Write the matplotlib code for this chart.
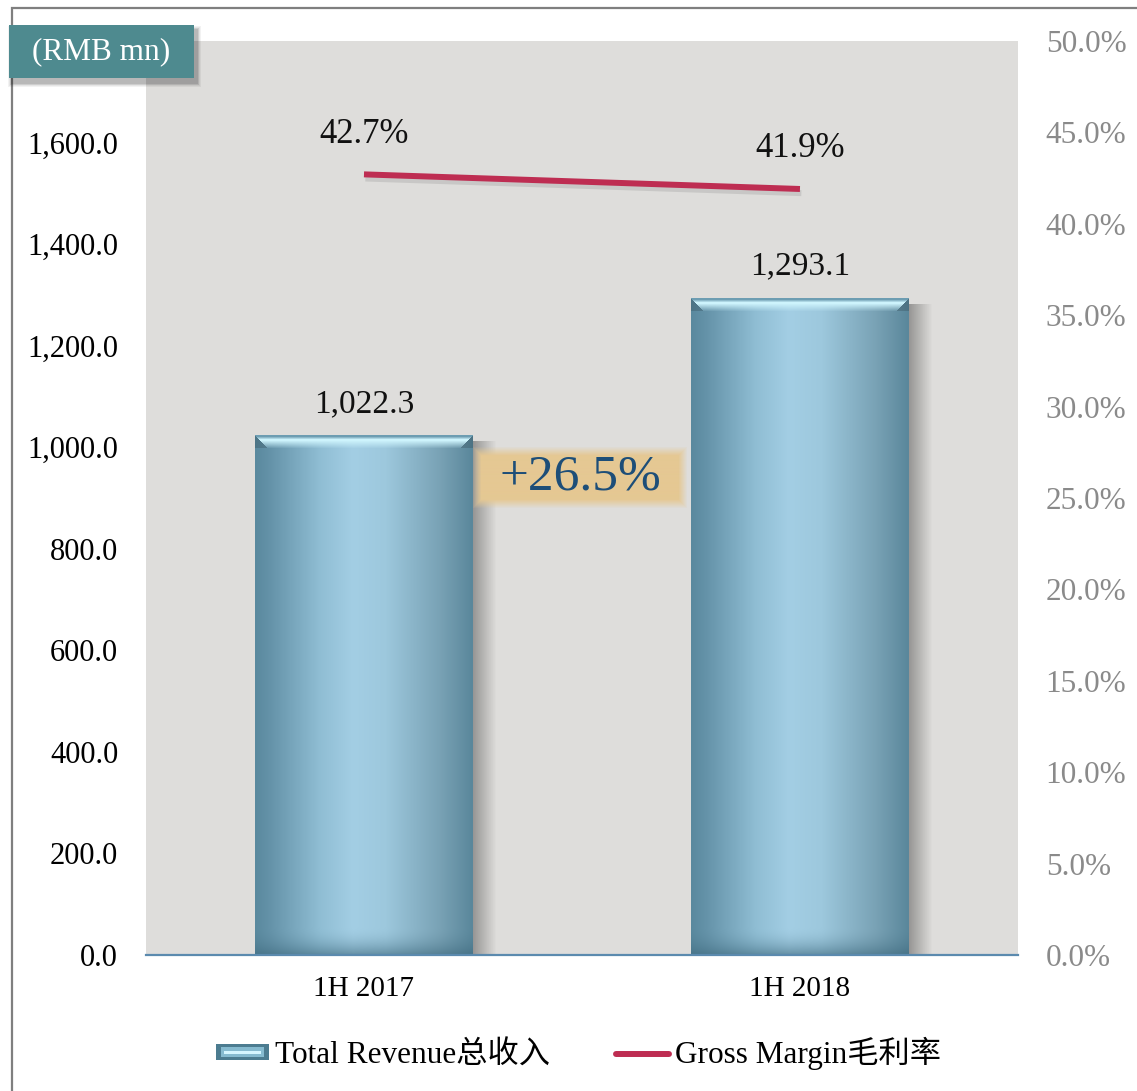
import numpy as np
import matplotlib.pyplot as plt
import matplotlib.patheffects as pe
from matplotlib.colors import to_rgb
from matplotlib.patches import Rectangle, Patch
from matplotlib.lines import Line2D
from matplotlib.legend_handler import HandlerBase

plt.rcParams['font.family'] = ['Liberation Serif', 'Noto Sans CJK SC', 'DejaVu Sans']

# data
periods = ['1H 2017', '1H 2018']
revenue = [1022.3, 1293.1]
gross_margin = [42.7, 41.9]
growth_label = '+26.5%'
rev_ticks = [0, 200, 400, 600, 800, 1000, 1200, 1400, 1600]
gm_ticks = [0, 5, 10, 15, 20, 25, 30, 35, 40, 45, 50]
legend_labels = ['Total Revenue总收入', 'Gross Margin毛利率']

BG = '#DEDDDB'
LINE_C = '#BE2D52'

fig = plt.figure(figsize=(11.37, 10.91), dpi=100)
ax = fig.add_axes([0.1284, 0.1247, 0.7669, 0.8378])
ax.set_facecolor(BG)
ax.set_xlim(-0.5, 1.5)
ax.set_ylim(0, 1800)

x = np.arange(len(periods))
bars = ax.bar(x, revenue, width=0.5, color='none', zorder=3)


def hex_rgb(cs):
    return np.array([to_rgb(c) for c in cs])


def bar_image(w_px, h_px):
    # horizontal shading of the cylinder-like bar
    pos = [0, 0.07, 0.3, 0.45, 0.6, 0.85, 1.0]
    cols = hex_rgb(['#5A899E', '#6593A9', '#90BED4', '#A3CEE4', '#9DC8DD', '#79A2B5', '#5A879B'])
    xs = np.linspace(0, 1, w_px)
    body = np.stack([np.interp(xs, pos, cols[:, k]) for k in range(3)], axis=-1)
    img = np.repeat(body[None, :, :], h_px, axis=0)
    # top bevel
    bev = 13
    hi = np.array(to_rgb('#CDF3FC'))
    edge = np.array(to_rgb('#6D9DB2'))
    for r in range(min(bev, h_px)):
        if r < 2:
            face = edge
        elif r < 5:
            face = edge + (hi - edge) * (r - 1) / 3
        else:
            face = hi
        t = max(0, (r - 5) / (bev - 5))
        row = face * (1 - t) + body * t
        row = np.broadcast_to(row, body.shape).copy()
        inset = r
        row[:inset] = body[:inset] * 0.85
        if inset > 0:
            row[-inset:] = body[-inset:] * 0.85
        img[r] = row
    # bottom darkening
    nb = 28
    dark = np.array(to_rgb('#3D687C'))
    for i in range(min(nb, h_px)):
        w = (1 - i / nb) ** 2 * 0.6
        img[h_px - 1 - i] = img[h_px - 1 - i] * (1 - w) + dark * w
    return img


inv = ax.transData.inverted()
for b in bars:
    x0, w, h = b.get_x(), b.get_width(), b.get_height()
    p0 = ax.transData.transform((x0, 0))
    p1 = ax.transData.transform((x0 + w, h))
    w_px = int(round(p1[0] - p0[0]))
    h_px = int(round(p1[1] - p0[1]))
    # shadow to the right
    sh_w = 24
    sx1 = inv.transform((p1[0] + sh_w, p1[1] - 6))
    a = np.linspace(0.32, 0.0, sh_w)
    sh = np.zeros((1, sh_w, 4))
    sh[..., 3] = a
    ax.imshow(sh, extent=[x0 + w, sx1[0], 0, sx1[1]], aspect='auto', zorder=2,
              interpolation='bilinear')
    ax.imshow(bar_image(w_px, h_px), extent=[x0, x0 + w, 0, h], aspect='auto',
              zorder=3, interpolation='nearest')
    ax.annotate(f'{h:,.1f}', (b.get_x() + w / 2, h), xytext=(0, 23),
                textcoords='offset points', ha='center', va='center', fontsize=24,
                color='#111111', zorder=5)

ax.set_xlim(-0.5, 1.5)
ax.set_ylim(0, 1800)

# growth highlight box
bh, bw, fade = 60, 214, 9
yy, xx = np.mgrid[0:bh, 0:bw]
d = np.minimum(np.minimum(xx, bw - 1 - xx), np.minimum(yy, bh - 1 - yy))
box = np.zeros((bh, bw, 4))
box[..., :3] = to_rgb('#E5C893')
box[..., 3] = np.clip((d + 1) / fade, 0, 1)
gx0 = bars[0].get_x() + bars[0].get_width()
px_x = 1 / (ax.transData.transform((1, 0))[0] - ax.transData.transform((0, 0))[0])
px_y = 1 / (ax.transData.transform((0, 1))[1] - ax.transData.transform((0, 0))[1])
gy_c = 940
ax.imshow(box, extent=[gx0, gx0 + bw * px_x, gy_c - bh / 2 * px_y, gy_c + bh / 2 * px_y],
          aspect='auto', zorder=4, interpolation='bilinear')
ax.text(gx0 + bw / 2 * px_x, gy_c, growth_label, ha='center', va='center',
        fontsize=37, color='#1D4E78', zorder=5)

ax.set_xlim(-0.5, 1.5)
ax.set_ylim(0, 1800)

ax.set_xticks(x)
ax.set_xticklabels(periods, fontsize=21)
ax.set_yticks(rev_ticks)
ax.set_yticklabels([f'{v:,.1f}' for v in rev_ticks], fontsize=22)
ax.tick_params(axis='both', length=0)
ax.tick_params(axis='y', pad=20)
ax.tick_params(axis='x', pad=15)
for s in ['top', 'left', 'right']:
    ax.spines[s].set_visible(False)
ax.spines['bottom'].set_color('#5B8AAE')
ax.spines['bottom'].set_linewidth(1.6)
ax.spines['bottom'].set_zorder(6)

# gross margin line
ax2 = ax.twinx()
ax2.set_ylim(0, 50)
ax2.plot(x, gross_margin, color=LINE_C, lw=4.3, solid_capstyle='butt', zorder=5,
         path_effects=[pe.SimpleLineShadow(offset=(1, -3), shadow_color='#888888', alpha=0.25),
                       pe.Normal()])
for xi, v in zip(x, gross_margin):
    ax2.annotate(f'{v:.1f}%', (xi, v), xytext=(0, 29), textcoords='offset points',
                 ha='center', va='center', fontsize=25, color='#111111')
ax2.set_yticks(gm_ticks)
ax2.set_yticklabels([f'{v:.1f}%' for v in gm_ticks], fontsize=22.5, color='#8A8A8A')
ax2.tick_params(axis='y', length=0, pad=20)
for s in ax2.spines.values():
    s.set_visible(False)

# outer frame
fig.add_artist(Rectangle((12 / 1137, -0.1), 1.2, 1 - 8 / 1091 + 0.1, transform=fig.transFigure,
                         fill=False, ec='#7F7F7F', lw=1.6, zorder=0))

# unit box with shadow
bx0, by0, bxw, byh = 9 / 1137, 1 - 78 / 1091, 185 / 1137, 53 / 1091
for k in range(6, 0, -1):
    fig.add_artist(Rectangle((bx0 + (3 - k * 0.6) / 1137, by0 - (5 + k * 0.6) / 1091),
                             bxw + 2 * k * 0.6 / 1137, byh + 2 * k * 0.6 / 1091,
                             transform=fig.transFigure, fc='#000000', ec='none',
                             alpha=0.05, zorder=2))
fig.add_artist(Rectangle((bx0, by0), bxw, byh, transform=fig.transFigure,
                         fc='#4E8A8F', ec='none', zorder=3))
fig.text(bx0 + bxw / 2, by0 + byh / 2, '(RMB mn)', ha='center', va='center',
         fontsize=22.5, color='white', zorder=4)


# legend
class BarIconHandler(HandlerBase):
    def create_artists(self, legend, orig_handle, xdescent, ydescent, width, height, fontsize, trans):
        x0, y0 = -xdescent, -ydescent
        outer = Rectangle((x0, y0), width, height, fc='#4C7C90', ec='none', transform=trans)
        inner = Rectangle((x0 + width * 0.1, y0 + height * 0.2), width * 0.8, height * 0.6,
                          fc='#86BBD0', ec='none', transform=trans)
        mid = Rectangle((x0 + width * 0.15, y0 + height * 0.4), width * 0.7, height * 0.2,
                        fc='#D5F6FF', ec='none', transform=trans)
        return [outer, inner, mid]


bar_handle = Patch()
line_handle = Line2D([], [], color=LINE_C, lw=4.3, solid_capstyle='round')
fig.legend([bar_handle, line_handle], legend_labels, loc='center',
           bbox_to_anchor=(0.509, 0.034), ncol=2, frameon=False, fontsize=22.5,
           handlelength=1.7, handleheight=0.42, handletextpad=0.2, columnspacing=2.1,
           handler_map={bar_handle: BarIconHandler()})

fig.savefig('out.png', dpi=100)
